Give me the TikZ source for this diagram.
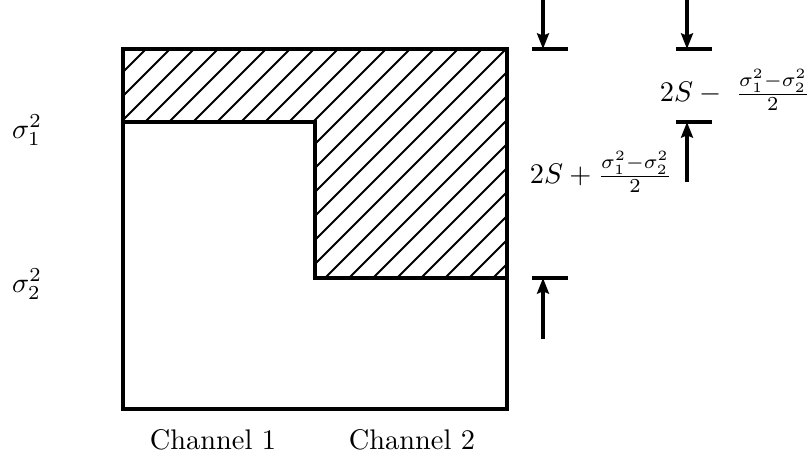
\documentclass[tikz,border=0pt]{standalone}
\usepackage{amsmath}
\usetikzlibrary{arrows.meta}
\begin{document}
\begin{tikzpicture}[x=0.01239cm,y=-0.01239cm,
  box/.style={line width=1.1pt},
  hatch/.style={line width=0.7pt},
  dimbar/.style={line width=1.1pt},
  dimarrow/.style={line width=1.1pt,-{Stealth[length=5.5pt,width=4.2pt,inset=0.8pt]}}]

% positions
\def\xl{123}
\def\xm{315}
\def\xr{507}
\def\ytop{49}
\def\yone{122}
\def\ytwo{278}
\def\ybot{409}

\useasboundingbox (0,0) rectangle (807,465);

% hatched area
\begin{scope}
  \clip (\xl,\ytop) -- (\xr,\ytop) -- (\xr,\ytwo) -- (\xm,\ytwo) -- (\xm,\yone) -- (\xl,\yone) -- cycle;
  \foreach \k in {-1,...,25}
    \draw[hatch] ({195+24*\k},0) -- ++(-500,500);
\end{scope}

% outline
\draw[box] (\xl,\ytop) rectangle (\xr,\ybot);
\draw[box] (\xl,\yone) -- (\xm,\yone) -- (\xm,\ytwo) -- (\xr,\ytwo);

% labels
\node (sig1) at (27,130) {$\sigma_1^2$};
\node (sig2) at (27,284) {$\sigma_2^2$};
\node (ch1) at (213,440) {Channel 1};
\node (ch2) at (412,440) {Channel 2};

% dimension marks
\coordinate (la) at (543,0);
\coordinate (lb) at (543,\ytop);
\coordinate (lc) at (543,339);
\coordinate (ld) at (543,\ytwo);
\coordinate (ra) at (687,0);
\coordinate (rb) at (687,\ytop);
\coordinate (rc) at (687,182);
\coordinate (rd) at (687,\yone);

\draw[dimbar] (532,\ytop) -- (568,\ytop);
\draw[dimbar] (532,\ytwo) -- (568,\ytwo);
\draw[dimbar] (676,\ytop) -- (712,\ytop);
\draw[dimbar] (676,\yone) -- (712,\yone);

\draw[dimarrow] (la) -- (lb);
\draw[dimarrow] (lc) -- (ld);
\draw[dimarrow] (ra) -- (rb);
\draw[dimarrow] (rc) -- (rd);

\node (gapl) at (601,172) {$2S + \frac{\sigma_1^2-\sigma_2^2}{2}$};
\node (gapr) at (735,90) {$2S - \;\frac{\sigma_1^2-\sigma_2^2}{2}$};

\end{tikzpicture}
\end{document}
